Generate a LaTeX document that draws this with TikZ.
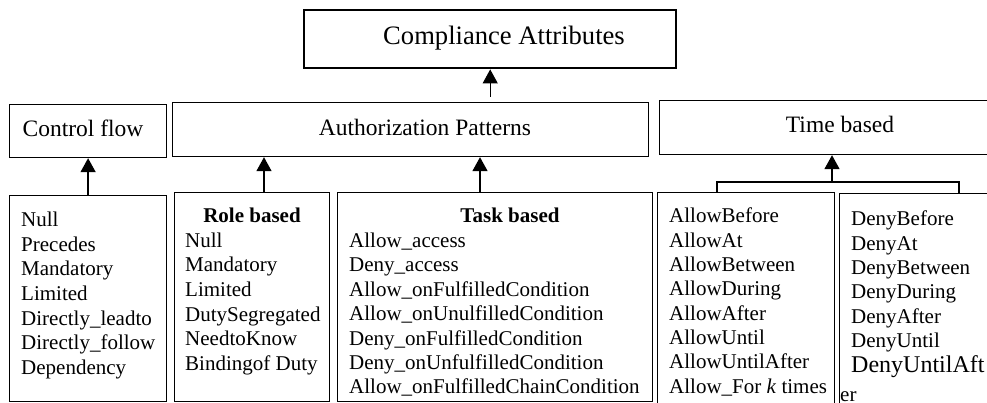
\documentclass[tikz,border=0pt]{standalone}
\usepackage{fontspec}
\setmainfont{Liberation Serif}
\usetikzlibrary{arrows.meta,calc}
\begin{document}
\begin{tikzpicture}[x=1pt,y=-1pt,
  box/.style={draw,line width=1.2pt,inner sep=0pt,anchor=north west},
  arr/.style={line width=1.6pt,-{Triangle[width=15pt,length=14pt]}},
  arrthin/.style={line width=1pt,-{Triangle[width=15pt,length=14pt]}},
  bracket/.style={line width=2.4pt},
  item/.style={inner sep=0pt,anchor=base west,font=\fontsize{21}{24}\selectfont},
  itemc/.style={inner sep=0pt,anchor=base,font=\fontsize{21}{24}\selectfont\bfseries},
  hdr/.style={inner sep=0pt,anchor=base,font=\fontsize{23.5}{28}\selectfont},
  ttl/.style={inner sep=0pt,anchor=base,font=\fontsize{26.6}{32}\selectfont},
]
\useasboundingbox (0,0) rectangle (987,403);

% boxes
\node[box,line width=2.4pt,minimum width=372pt,minimum height=58pt] (comp) at (303,9) {};
\node[box,minimum width=157pt,minimum height=53pt] (cf) at (9,104) {};
\node[box,minimum width=476pt,minimum height=54pt] (auth) at (172,102) {};
\node[box,minimum width=346pt,minimum height=54pt] (time) at (659,100) {};
\node[box,minimum width=157pt,minimum height=206pt] (b1) at (9,195) {};
\node[box,minimum width=155pt,minimum height=209pt] (b2) at (174,192) {};
\node[box,minimum width=315pt,minimum height=209pt] (b3) at (337,192) {};
\node[box,minimum width=177pt,minimum height=230pt] (b4) at (657,192) {};
\node[box,minimum width=170pt,minimum height=230pt] (b5) at (839,193) {};

% titles
\node[ttl] (compt) at (504,45) {Compliance Attributes};
\node[hdr] (cft) at (83,137) {Control flow};
\node[hdr] (autht) at (425,136) {Authorization Patterns};
\node[hdr] (timet) at (840,133) {Time based};

% lists
\foreach \t [count=\i] in {Null,Precedes,Mandatory,Limited,Directly\_leadto,Directly\_follow,Dependency}
  \node[item] (la-\i) at (21,{227+24.5*(\i-1)}) {\t};

\node[itemc] (rb) at (252,223) {Role based};
\foreach \t [count=\i] in {Null,Mandatory,Limited,DutySegregated,NeedtoKnow,Bindingof Duty}
  \node[item] (lb-\i) at (185,{247.5+24.5*\i-24.5}) {\t};

\node[itemc] (tb) at (510,223) {Task based};
\foreach \t [count=\i] in {Allow\_access,Deny\_access,Allow\_onFulfilledCondition,Allow\_onUnulfilledCondition,Deny\_onFulfilledCondition,Deny\_onUnfulfilledCondition,Allow\_onFulfilledChainCondition}
  \node[item] (lc-\i) at (349,{247.4+24.4*(\i-1)}) {\t};

\foreach \t [count=\i] in {AllowBefore,AllowAt,AllowBetween,AllowDuring,AllowAfter,AllowUntil,AllowUntilAfter,{Allow\_For \textit{k} times}}
  \node[item] (ld-\i) at (669,{223+24.3*(\i-1)}) {\t};

\foreach \t [count=\i] in {DenyBefore,DenyAt,DenyBetween,DenyDuring,DenyAfter,DenyUntil}
  \node[item] (le-\i) at (851,{226+24.3*(\i-1)}) {\t};
\node[item,font=\fontsize{24}{28}\selectfont] (le-7) at (851,372) {DenyUntilAft};
\node[item] (le-8) at (840,401) {er};

% connectors
\coordinate (xa) at (264,0);
\coordinate (xb) at (480,0);
\coordinate (xt) at (832,182);
\coordinate (bl) at (717,182);
\coordinate (br) at (959,182);
\draw[arr] (b1.north) -- (cf.south);
\draw[arr] (xa |- b2.north) -- (xa |- auth.south);
\draw[arr] (xb |- b3.north) -- (xb |- auth.south);
\draw[bracket] (bl |- b4.north) -- (bl) -- (br) -- (br |- b5.north);
\draw[arr] (xt) -- (xt |- time.south);
\draw[arrthin] ($(comp.south |- auth.north)+(0,-5)$) -- (comp.south);
\end{tikzpicture}
\end{document}
